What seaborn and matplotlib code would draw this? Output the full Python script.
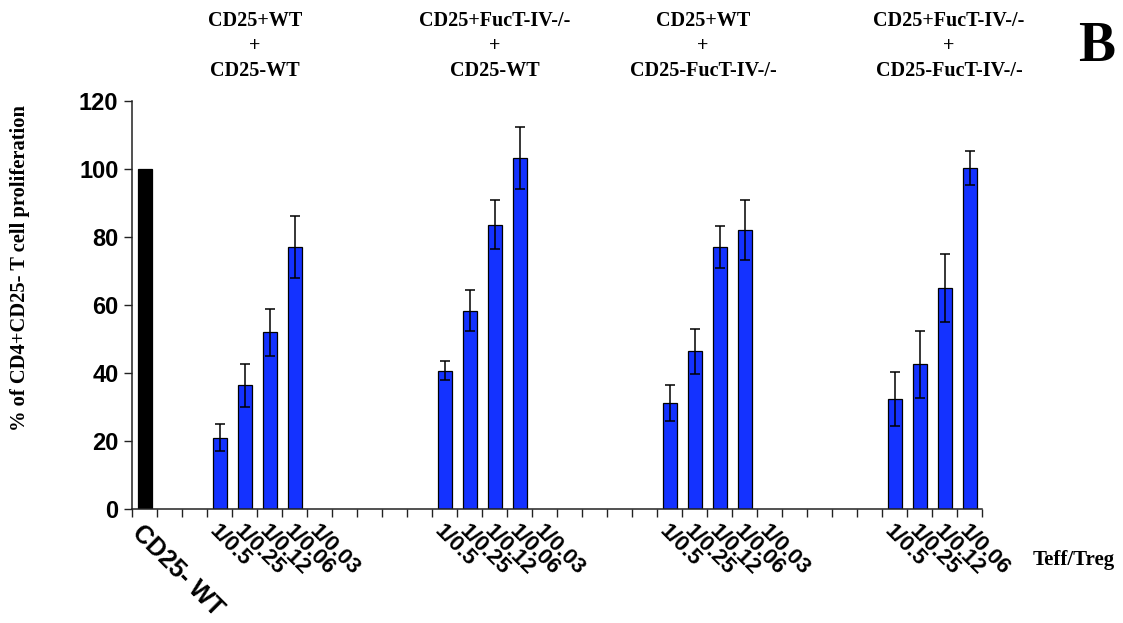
import numpy as np
import pandas as pd
import matplotlib
matplotlib.use("Agg")
import matplotlib.pyplot as plt
from matplotlib import font_manager
import seaborn as sns

# ---------------- data ----------------
control_label = "CD25- WT"
control_value = 100.0
ratio_labels = ["1/0.5", "1/0.25", "1/0.12", "1/0.06", "1/0.03"]
group_label_counts = [5, 5, 5, 4]
group_titles = [
    "CD25+WT\n+\nCD25-WT",
    "CD25+FucT-IV-/-\n+\nCD25-WT",
    "CD25+WT\n+\nCD25-FucT-IV-/-",
    "CD25+FucT-IV-/-\n+\nCD25-FucT-IV-/-",
]
g1_values = [21.1, 36.4, 52.1, 77.1]
g1_errors = [4.1, 6.2, 6.9, 9.0]
g2_values = [40.7, 58.4, 83.7, 103.2]
g2_errors = [2.8, 6.0, 7.1, 9.1]
g3_values = [31.2, 46.4, 77.1, 82.1]
g3_errors = [5.2, 6.7, 6.2, 8.8]
g4_values = [32.5, 42.6, 65.0, 100.4]
g4_errors = [7.9, 9.8, 10.1, 5.0]
y_ticks = [0, 20, 40, 60, 80, 100, 120]
y_label = "% of CD4+CD25- T cell proliferation"
x_unit_label = "Teff/Treg"
panel_letter = "B"

# ---------------- layout of slots ----------------
n_slots = 34
group_starts = [3, 12, 21, 30]
slot_names = [f"s{i}" for i in range(n_slots)]
slot_labels = [""] * n_slots
slot_labels[0] = control_label
for start, cnt in zip(group_starts, group_label_counts):
    for j in range(cnt):
        slot_labels[start + j] = ratio_labels[j]

rows = [dict(slot=slot_names[0], value=control_value, err=np.nan, kind="control")]
for start, vals, errs in zip(group_starts,
                             [g1_values, g2_values, g3_values, g4_values],
                             [g1_errors, g2_errors, g3_errors, g4_errors]):
    for j, (v, e) in enumerate(zip(vals, errs)):
        rows.append(dict(slot=slot_names[start + j], value=v, err=e, kind="test"))
df = pd.DataFrame(rows)

# ---------------- fonts / style ----------------
sns.set_theme(style="ticks")
avail = {f.name for f in font_manager.fontManager.ttflist}
sans = "Liberation Sans Narrow" if "Liberation Sans Narrow" in avail else "Liberation Sans"
serif = "Liberation Serif"
plt.rcParams["font.family"] = [serif, "DejaVu Serif"]
for k in ["text.color", "axes.labelcolor", "xtick.color", "ytick.color",
          "axes.edgecolor"]:
    plt.rcParams[k] = "black"

BLUE = "#1432FF"

fig = plt.figure(figsize=(11.23, 6.23), dpi=100)
ax = fig.add_axes([0.1178, 0.1825, 0.7569, 0.6554])

sns.barplot(data=df, x="slot", y="value", hue="kind", order=slot_names,
            palette={"control": "black", "test": BLUE}, dodge=False,
            saturation=1, width=0.55, errorbar=None, edgecolor="black",
            linewidth=0.9, legend=False, ax=ax)

err_df = df.dropna(subset=["err"])
xpos = [slot_names.index(s) for s in err_df["slot"]]
ax.errorbar(xpos, err_df["value"], yerr=err_df["err"], fmt="none",
            ecolor="black", elinewidth=1.1, capsize=3.8, capthick=1.1, zorder=5)

ax.set_xlim(-0.5, n_slots - 0.5)
ax.set_ylim(0, 120)
ax.set_yticks(y_ticks)
ax.set_yticklabels([str(t) for t in y_ticks], fontfamily=sans,
                   fontweight="bold", fontsize=17)
ax.set_xticks(range(n_slots))
ax.set_xticklabels(slot_labels, rotation=-45, ha="left",
                   rotation_mode="anchor", fontfamily=sans, fontweight="bold",
                   fontsize=16)
for lab in ax.get_xticklabels():
    if lab.get_text() == control_label:
        lab.set_fontsize(18)
ax.set_xticks(np.arange(-0.5, n_slots, 1.0), minor=True)
ax.tick_params(axis="x", which="major", length=0, pad=8)
ax.tick_params(axis="x", which="minor", length=6, width=1.0, direction="out",
               color="#222222")
ax.tick_params(axis="y", which="major", length=6, width=1.0, direction="out",
               pad=4, color="#222222")
ax.set_xlabel("")
ax.set_ylabel("")
sns.despine(ax=ax)
for sp in ["left", "bottom"]:
    ax.spines[sp].set_linewidth(1.1)
    ax.spines[sp].set_color("#222222")

W, H = 1123, 623
fig.text(20 / W, 1 - 268 / H, y_label, rotation=90, ha="center", va="center",
         fontsize=14.8, fontweight="bold")
for cx, title in zip([255, 495, 703, 949], group_titles):
    fig.text(cx / W, 1 - 46 / H, title, ha="center", va="center",
             multialignment="center", fontsize=14.5, fontweight="bold",
             linespacing=1.3)
fig.text(1097 / W, 1 - 47 / H, panel_letter, ha="center", va="center",
         fontsize=40, fontweight="bold")
fig.text(1074 / W, 1 - 560 / H, x_unit_label, ha="center", va="center",
         fontsize=15, fontweight="bold")

fig.savefig("out.png", dpi=100, facecolor="white")
